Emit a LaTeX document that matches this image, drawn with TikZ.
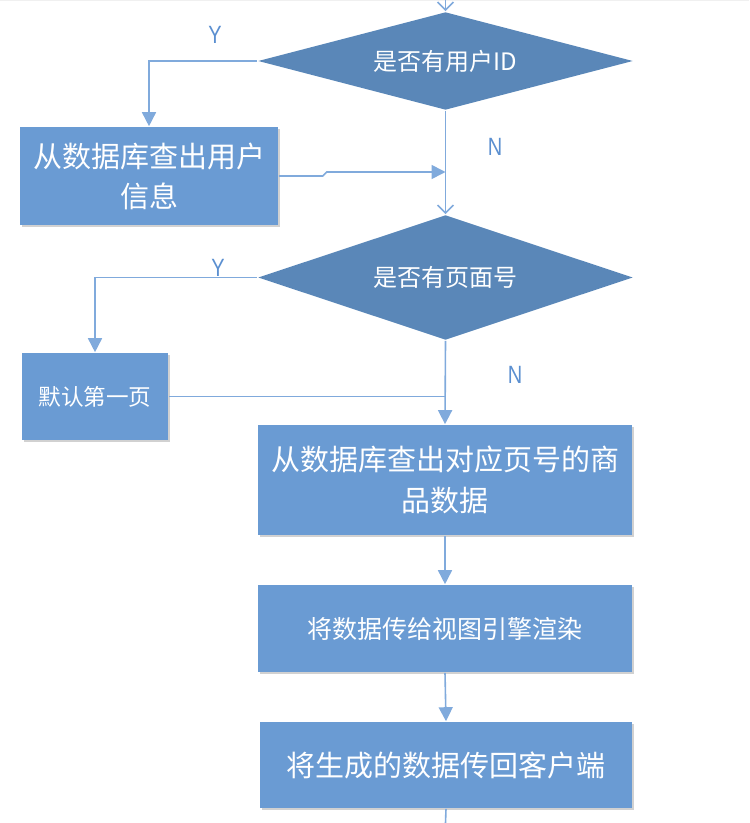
\documentclass[tikz,border=0pt]{standalone}
\usepackage{fontspec}
\setmainfont{Liberation Sans}
\newfontfamily\cjk{Noto Sans CJK SC}
\usetikzlibrary{arrows.meta,shapes.geometric,shadows}
\definecolor{diafill}{HTML}{5A87B8}
\definecolor{boxfill}{HTML}{6A9BD3}
\definecolor{linkblue}{HTML}{80AADC}
\definecolor{ynblue}{HTML}{5B8FD0}

\begin{document}
\begin{tikzpicture}[x=0.5pt,y=-0.5pt,line width=0.8pt,
    decide/.style={diamond,fill=diafill,text=white,inner sep=0pt,font=\cjk\fontsize{12}{14}\selectfont},
    act/.style={rectangle,fill=boxfill,text=white,align=center,inner sep=0pt,
      drop shadow={shadow xshift=0.8pt,shadow yshift=-0.8pt,fill=black,opacity=0.18}},
    link/.style={draw=linkblue},
    fwd/.style={link,-{Triangle[length=7pt,width=7pt]}},
    open/.style={link,-{Straight Barb[length=4pt,width=8pt]}},
    yn/.style={text=ynblue,font=\fontsize{12.5}{14}\selectfont}]
  \useasboundingbox (0,0) rectangle (749,823);
  \fill[black!6] (0,0) rectangle (749,1.5);
  % two questions
  \node[decide,aspect=3.8,minimum width=187.5pt,minimum height=49pt] (d1) at (445.5,61) {是否有用户ID};
  \node[decide,aspect=3,minimum width=187.5pt,minimum height=62.5pt] (d2) at (445.5,277.5) {是否有页面号};
  % boxes
  \node[act,minimum width=129pt,minimum height=49pt,font=\cjk\fontsize{14.5}{20}\selectfont] (b1) at (149,176) {从数据库查出用户\\信息};
  \node[act,minimum width=73pt,minimum height=43.5pt,font=\cjk\fontsize{11.3}{14}\selectfont] (b2) at (95,396.5) {默认第一页};
  \node[act,minimum width=187pt,minimum height=55pt,font=\cjk\fontsize{14.5}{20.5}\selectfont] (b3) at (445,480) {从数据库查出对应页号的商\\品数据};
  \node[act,minimum width=187pt,minimum height=43.5pt,font=\cjk\fontsize{12.5}{14}\selectfont] (b4) at (445,628.5) {将数据传给视图引擎渲染};
  \node[act,minimum width=186pt,minimum height=43pt,font=\cjk\fontsize{14.5}{16}\selectfont] (b5) at (446,765) {将生成的数据传回客户端};
  \coordinate (in) at (445.5,0);
  \coordinate (j1) at (445.5,172);
  \coordinate (out) at (445.5,823);
  % connectors
  \draw[open] (in) -- (d1.north);
  \draw[fwd] (d1.west) -| (b1.north);
  \draw[open] (d1.south) -- (d2.north);
  \draw[fwd] (b1.east) -- ++(44,0) -- ++(4,-4) -- (j1);
  \draw[fwd] (d2.west) -| (b2.north);
  \draw[link] (b2.east) -- (b2.east -| d2.south);
  \draw[fwd] (d2.south) -- (b3.north);
  \draw[fwd] (b3.south) -- (b4.north);
  \draw[fwd] (b4.south) -- (b5.north);
  \draw[link] (b5.south) -- (out);
  % Y / N
  \node[yn] (y1) at (215,35) {\scalebox{0.8}[1]{Y}};
  \node[yn] (n1) at (495,147) {\scalebox{0.8}[1]{N}};
  \node[yn] (y2) at (218,268) {\scalebox{0.8}[1]{Y}};
  \node[yn] (n2) at (515,375) {\scalebox{0.8}[1]{N}};
\end{tikzpicture}
\end{document}
